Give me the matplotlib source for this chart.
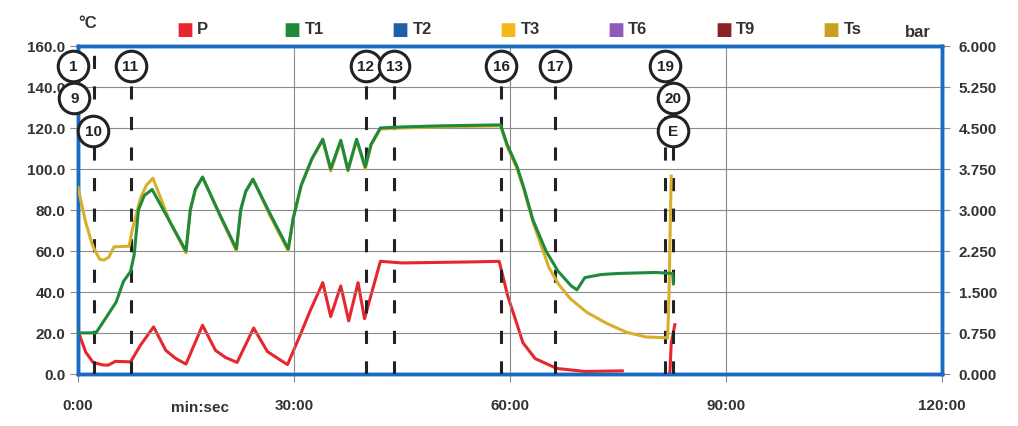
import numpy as np
import matplotlib.pyplot as plt

plt.rcParams['font.family'] = ['Liberation Sans', 'DejaVu Sans']
plt.rcParams['font.weight'] = 'bold'

# time in minutes, temperatures in degC, pressure in bar
t1_time = [0, 2.5, 4.0, 5.3, 6.3, 7.3, 7.8, 8.4, 9.2, 10.3, 12.8, 15.0, 15.6, 16.3, 17.3,
           19.8, 22.0, 22.6, 23.3, 24.3, 26.7, 29.2, 29.9, 31.0, 32.5, 34.0, 35.1, 36.5,
           37.5, 38.7, 39.9, 40.7, 42.0, 45, 50, 55, 58.7, 59.6, 61.0, 62.0, 63.2, 65.0,
           66.7, 68.5, 69.3, 70.4, 72.7, 75, 80.2, 82.6, 82.7]
t1_vals = [20, 20, 28, 35, 45, 50, 58, 80, 87, 90, 74, 60, 80, 90, 96,
           77, 61, 80, 89, 95, 78, 61, 76, 92, 105, 114.5, 100, 114,
           99.5, 114.5, 101, 112, 120, 120.5, 121, 121.3, 121.5, 112, 101, 90, 75, 60,
           50, 43, 41, 47, 48.5, 49, 49.5, 49, 44]

t3_time = [0, 1.0, 1.9, 2.25, 3.0, 3.6, 4.3, 5.0, 7.1, 7.5, 8.7, 9.5, 10.4, 12.8, 15.0,
           15.6, 16.3, 17.3, 19.8, 22.0, 22.6, 23.3, 24.3, 26.7, 29.2, 29.9, 31.0, 32.5,
           34.0, 35.1, 36.5, 37.5, 38.7, 39.9, 40.7, 42.0, 45, 50, 55, 58.7, 59.6, 61.0,
           62.0, 63.2, 65.4, 66.7, 68.4, 70.7, 73.4, 76.2, 78.9, 81.4, 81.9, 82.1, 82.3, 82.4]
t3_vals = [91, 75, 64, 61, 56, 55.5, 57, 62, 62.3, 69.6, 86, 92, 95.5, 74, 59,
           80, 90, 96, 76.5, 60, 80, 89, 95, 77, 60, 76, 92, 105,
           114, 99, 113.5, 99, 114, 100, 111.5, 119.5, 120, 120.5, 120.8, 121, 111, 100,
           89, 74, 52, 44, 36.6, 30, 24.7, 20.3, 18, 17.7, 17.5, 40, 80, 96.5]

p_time = [0, 1.07, 2.1, 3.4, 4.2, 5.2, 7.3, 8.75, 10.5, 12.2, 13.6, 15.0, 17.3, 19.1, 20.5,
          22.1, 24.4, 26.3, 27.8, 29.1, 30.7, 32.2, 34.0, 35.1, 36.5, 37.6, 38.9, 39.8,
          42.0, 45, 50, 55, 58.5, 59.7, 60.9, 61.8, 63.5, 66.5, 70.4, 75.6,
          np.nan, 82.2, 82.4, 82.9]
p_vals = [0.79, 0.40, 0.21, 0.165, 0.16, 0.23, 0.22, 0.54, 0.86, 0.43, 0.28, 0.18, 0.89, 0.43, 0.30,
          0.21, 0.84, 0.41, 0.28, 0.17, 0.66, 1.14, 1.67, 1.05, 1.61, 0.97, 1.67, 1.01,
          2.06, 2.03, 2.04, 2.05, 2.06, 1.42, 0.94, 0.57, 0.28, 0.10, 0.045, 0.056,
          np.nan, 0.0, 0.56, 0.90]

legend_names = ['P', 'T1', 'T2', 'T3', 'T6', 'T9', 'Ts']
legend_colors = ['#e8262d', '#1f8a3c', '#1f5fa8', '#f4b81c', '#8f5bb8', '#8c2226', '#c9a020']

# event markers: label, time, row
ev_labels = ['1', '9', '10', '11', '12', '13', '16', '17', '19', '20', 'E']
ev_times = [-0.7, -0.5, 2.1, 7.3, 40.0, 43.9, 58.8, 66.3, 81.6, 82.6, 82.6]
ev_rows = [0, 1, 2, 0, 0, 0, 0, 0, 0, 1, 2]
ev_lines = [2.2, 7.3, 40.0, 43.9, 58.8, 66.3, 81.6, 82.6]
row_y = [150, 134.5, 118.5]

txt = '#333333'
blue = '#1a6bc0'

fig = plt.figure(figsize=(10.18, 4.27), dpi=100)
ax = fig.add_axes([0.0766, 0.122, 0.8487, 0.768])
ax2 = ax.twinx()
# keep the temperature axes (with the event circles) on top
ax.set_zorder(ax2.get_zorder() + 1)
ax.patch.set_visible(False)

ax.set_xlim(0, 120)
ax.set_ylim(0, 160)
ax2.set_ylim(0, 6)

ax.set_yticks(np.arange(0, 161, 20))
ax.set_yticklabels(['%.1f' % v for v in np.arange(0, 161, 20)])
ax2.set_yticks(np.arange(0, 6.01, 0.75))
ax2.set_yticklabels(['%.3f' % v for v in np.arange(0, 6.01, 0.75)])
ax.set_xticks([0, 30, 60, 90, 120])
ax.set_xticklabels(['0:00', '30:00', '60:00', '90:00', '120:00'])

ax2.grid(False)
ax.grid(True, color='#8a8a8a', lw=0.8)
for a in (ax, ax2):
    a.tick_params(colors='#8a8a8a', labelcolor=txt, labelsize=11, length=6, width=0.8)
    for s in a.spines.values():
        s.set_color(blue)
        s.set_linewidth(2.5)
ax.tick_params(axis='x', pad=11)
ax.tick_params(axis='y', pad=3)
ax2.tick_params(axis='y', pad=6)

# event lines and circles
for x in ev_lines:
    ax.plot([x, x], [0, 160], color='#222222', lw=2.2, dashes=(4.3, 5.7), zorder=3)
ax.plot(ev_times, [row_y[r] for r in ev_rows], 'o', ms=22, mfc='white', mec='#222222',
        mew=2.2, zorder=6, clip_on=False)
for lab, x, r in zip(ev_labels, ev_times, ev_rows):
    ax.text(x, row_y[r], lab, ha='center', va='center', fontsize=11, color='#222222',
            zorder=7)

ax.plot(t3_time, t3_vals, color='#d6b02a', lw=2.2, zorder=4)
ax.plot(t1_time, t1_vals, color='#1f8a3c', lw=2.2, zorder=5)
ax2.plot(p_time, p_vals, color='#e8262d', lw=2.2, zorder=5)

# legend row
for i, (name, c) in enumerate(zip(legend_names, legend_colors)):
    x0 = (176 + i * 107.8) / 1018
    fig.text(x0, 0.93, '\u25a0', color=c, fontsize=13, ha='left', va='center',
             family='DejaVu Sans')
    fig.text(x0 + 21 / 1018, 0.93, name, color=txt, fontsize=12, ha='left', va='center')

fig.text(78 / 1018, 0.944, '°C', color=txt, fontsize=12, ha='left', va='center')
fig.text(905 / 1018, 0.925, 'bar', color=txt, fontsize=12, ha='left', va='center')
fig.text(200 / 1018, 1 - 408 / 427, 'min:sec', color=txt, fontsize=11, ha='center',
         va='center')

fig.savefig('out.png', dpi=100)
